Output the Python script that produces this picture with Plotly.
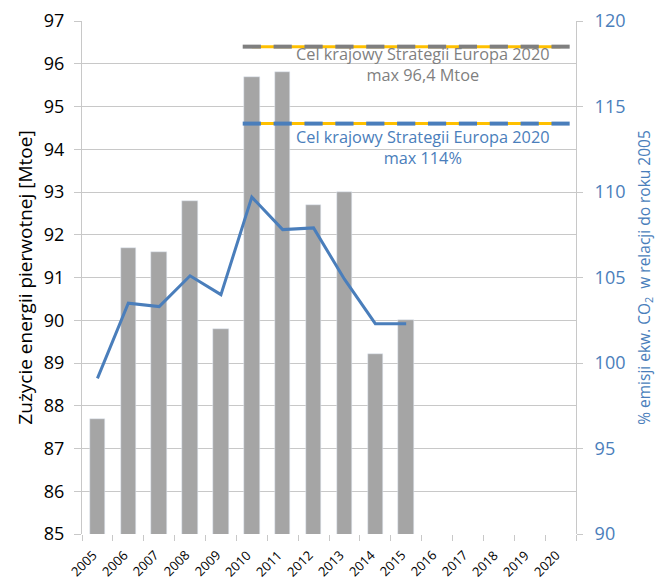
import plotly.graph_objects as go

years = [str(y) for y in range(2005, 2021)]
energy_years = [str(y) for y in range(2005, 2016)]
energy_mtoe = [87.7, 91.7, 91.6, 92.8, 89.8, 95.7, 95.8, 92.7, 93.0, 89.2, 90.0]
emission_pct = [99.1, 103.5, 103.3, 105.1, 104.0, 109.7, 107.8, 107.9, 104.9, 102.3, 102.3]
target_years = [str(y) for y in range(2010, 2021)]
target_energy = [96.4] * len(target_years)
target_emission = [114] * len(target_years)

FONT = "Open Sans"
BAR = "#a5a5a5"
BLUE = "#4a7ebb"
GREY = "#7f7f7f"
YELLOW = "#ffc000"
GRID = "#c8c8c8"

fig = go.Figure()
fig.add_trace(go.Bar(x=energy_years, y=energy_mtoe, marker_color=BAR, width=0.5, yaxis="y"))
fig.add_trace(go.Scatter(x=energy_years, y=emission_pct, mode="lines",
                         line=dict(color=BLUE, width=3), yaxis="y2"))
fig.add_trace(go.Scatter(x=target_years, y=target_energy, mode="lines+markers",
                         line=dict(color=YELLOW, width=3),
                         marker=dict(symbol="line-ew", size=13, line=dict(color=GREY, width=4)),
                         yaxis="y"))
fig.add_trace(go.Scatter(x=target_years, y=target_emission, mode="lines+markers",
                         line=dict(color=YELLOW, width=3),
                         marker=dict(symbol="line-ew", size=13, line=dict(color=BLUE, width=4)),
                         yaxis="y2"))

fig.add_annotation(x=10.53, y=95.99, xref="x", yref="y", showarrow=False,
                   text="Cel krajowy Strategii Europa 2020<br>max 96,4 Mtoe",
                   font=dict(family=FONT, size=16.3, color=GREY), yanchor="middle")
fig.add_annotation(x=10.53, y=112.62, xref="x", yref="y2", showarrow=False,
                   text="Cel krajowy Strategii Europa 2020<br>max 114%",
                   font=dict(family=FONT, size=16.3, color=BLUE), yanchor="middle")

# rotated year labels (category index positions on the x axis)
for i, yr in enumerate(years):
    fig.add_annotation(x=i, y=0, xref="x", yref="paper", showarrow=False,
                       text=yr, textangle=-45, xanchor="right", yanchor="top",
                       xshift=5, yshift=-11, borderpad=0,
                       font=dict(family=FONT, size=13, color="#000"))

fig.update_layout(
    width=665, height=582,
    margin=dict(l=82, r=89, t=21, b=48),
    paper_bgcolor="white", plot_bgcolor="white",
    showlegend=False,
    font=dict(family=FONT),
    bargap=0,
    xaxis=dict(type="category", categoryorder="array", categoryarray=years,
               range=[-0.5, 15.5], showticklabels=False,
               showgrid=False, zeroline=False, showline=False,
               ticks="outside", tickson="boundaries", ticklen=6, tickcolor=GRID,
               automargin=False),
    yaxis=dict(range=[85, 97], dtick=1, tickfont=dict(size=18, color="#000"),
               title=dict(text="Zużycie energii pierwotnej [Mtoe]",
                          font=dict(size=19, color="#000"), standoff=6),
               showgrid=True, gridcolor=GRID, gridwidth=1,
               showline=True, linecolor=GRID, ticks="outside", ticklen=7,
               tickcolor=GRID, zeroline=False, automargin=False,
               ticklabelstandoff=6),
    yaxis2=dict(range=[90, 120], dtick=5, overlaying="y", side="right",
                tickfont=dict(size=18, color=BLUE),
                title=dict(text="% emisji ekw. CO<sub>2</sub>  w relacji do roku 2005",
                           font=dict(size=15.5, color=BLUE), standoff=14),
                showgrid=False, showline=True, linecolor=GRID, ticks="outside",
                ticklen=6, tickcolor=GRID, zeroline=False, automargin=False,
                ticklabelstandoff=8),
)

fig.write_html("out.html", config={"displayModeBar": False},
               post_script="document.body.style.margin='0';")
